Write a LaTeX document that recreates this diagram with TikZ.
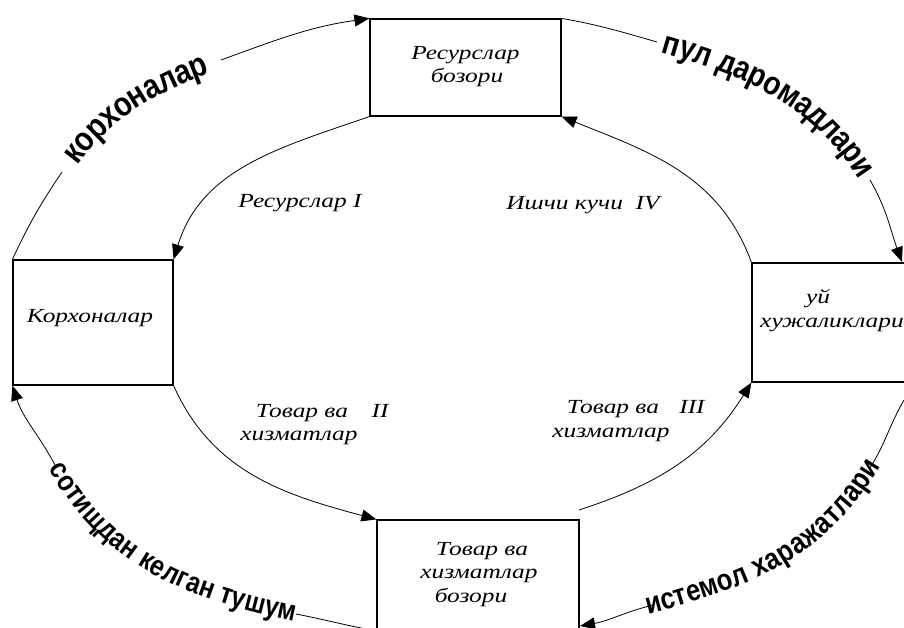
\documentclass[tikz,border=0pt]{standalone}
\usepackage{fontspec}
\newfontfamily\boxfont[FakeStretch=1.27]{Liberation Serif}
\newfontfamily\arcfont[FakeStretch=0.85]{Liberation Sans}
\usetikzlibrary{arrows.meta,decorations.text}
\begin{document}
\begin{tikzpicture}[x=1pt,y=1pt,
  box/.style={draw, line width=1.2pt, inner sep=0pt},
  conn/.style={line width=0.8pt},
  arr/.style={conn, -{Triangle[length=15pt,width=12pt]}},
  lbl/.style={font=\boxfont\itshape\fontsize{20}{24}\selectfont, inner sep=0pt, anchor=base},
  arctext/.style={decorate, decoration={text along path, text align=center,
     raise=-0.26*#1 pt, text format delimiters={|}{|}}},
]
\useasboundingbox (0,0) rectangle (904,-628);
\clip (0,0) rectangle (904,-628);

% boxes
\node[box, minimum width=191pt, minimum height=97pt] (tb) at (465.5,-67.5) {};
\node[box, minimum width=160pt, minimum height=125pt] (lb) at (93,-322.5) {};
\node[box, minimum width=160pt, minimum height=119pt] (rb) at (832,-322.5) {};
\node[box, minimum width=202pt, minimum height=120pt] (bb) at (478,-580) {};

% box texts
\node[lbl] (tb1) at (465.5,-60) {Ресурслар};
\node[lbl] (tb2) at (467,-83) {бозори};
\node[lbl] (lb1) at (90,-322) {Корхоналар};
\node[lbl] (rb1) at (818,-303) {уй};
\node[lbl] (rb2) at (832,-327) {хужаликлари};
\node[lbl] (bb1) at (482,-555) {Товар ва};
\node[lbl] (bb2) at (479,-578) {хизматлар};
\node[lbl] (bb3) at (471,-602) {бозори};

% inner labels
\node[lbl] (l1) at (300,-208) {Ресурслар I};
\node[lbl] (l4) at (583,-210) {Ишчи кучи\ \ IV};
\node[lbl] (l2a) at (302,-417) {Товар ва};
\node[lbl] (l2n) at (380,-417) {II};
\node[lbl] (l2b) at (299,-440) {хизматлар};
\node[lbl] (l3a) at (613,-413) {Товар ва};
\node[lbl] (l3n) at (692,-413) {III};
\node[lbl] (l3b) at (611,-437) {хизматлар};

% inner connectors
\coordinate (bbs) at (579,-510);
\draw[arr] (tb.south west) to[out=199,in=73] (lb.north east);
\draw[arr] (rb.north west) to[out=110,in=-22] (tb.south east);
\draw[arr] (lb.south east) to[out=-66,in=165] (bb.north west);
\draw[arr] (bbs) to[out=18,in=238] (rb.south west);

% outer connectors: named points
\coordinate (tl1) at (62,-172);  \coordinate (tl2) at (221,-60);
\coordinate (tr1) at (657,-42);  \coordinate (tr2) at (870,-180);
\coordinate (tre) at (902,-262);
\coordinate (brs) at (904,-400); \coordinate (br2) at (870,-468);
\coordinate (br1) at (653,-605); \coordinate (bre) at (580,-626);
\coordinate (bls) at (377,-631); \coordinate (bl2) at (296,-614);
\coordinate (bl1) at (55,-465);

% top-left
\draw[conn] (lb.north west) to[out=65,in=236] (tl1);
\path[arctext=34, decoration={text={|\arcfont\bfseries\fontsize{34}{34}\selectfont|корхоналар}}]
  (tl1) to[out=56,in=200] (tl2);
\draw[arr] (tl2) to[out=20,in=188] (tb.north west);

% top-right
\draw[conn] (tb.north east) to[out=-10,in=164] (tr1);
\path[arctext=33, decoration={text={|\arcfont\bfseries\fontsize{33}{33}\selectfont|пул даромадлари}}]
  (tr1) to[out=-16,in=122] (tr2);
\draw[arr] (tr2) to[out=-60,in=110] (tre);

% bottom-right
\draw[conn] (brs) to[out=240,in=58] (br2);
\path[arctext=30, decoration={text={|\arcfont\bfseries\fontsize{30}{30}\selectfont|истемол харажатлари}}]
  (br1) to[out=15,in=238] (br2);
\draw[arr] (br1) to[out=194,in=10] (bre);

% bottom-left
\draw[conn] (bls) to[out=170,in=-11] (bl2);
\path[arctext=29, decoration={text={|\arcfont\bfseries\fontsize{29}{29}\selectfont|сотищдан келган тушум}}]
  (bl1) to[out=-60,in=168] (bl2);
\draw[arr] (bl1) to[out=118,in=-72] (lb.south west);
\end{tikzpicture}
\end{document}
